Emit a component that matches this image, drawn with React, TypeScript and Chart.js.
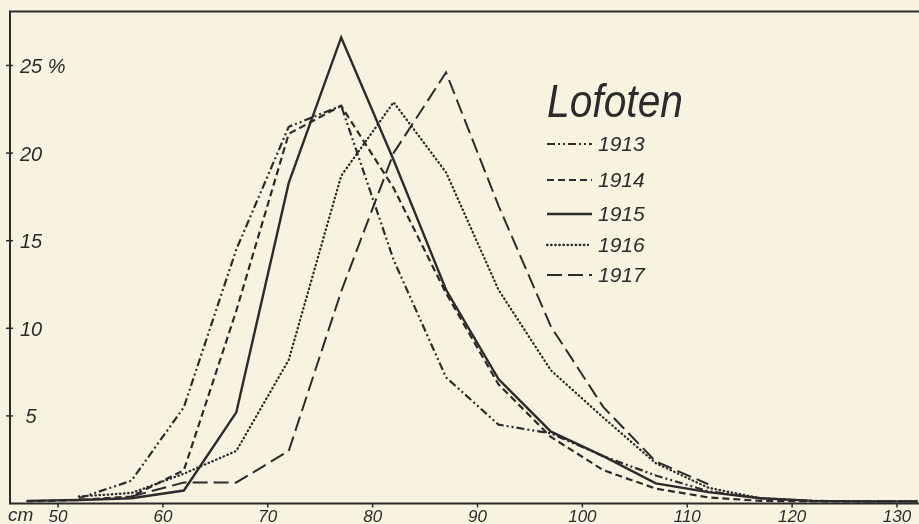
import React, { useEffect, useRef } from "react";
import { Chart, registerables } from "chart.js";

Chart.register(...registerables);

// ---- data (length in cm -> percentage of catch) ----
const lengthsCm = [47, 52, 57, 62, 67, 72, 77, 82, 87, 92, 97, 102, 107, 112, 117, 122, 127, 132];
const pct1913 = [null, 0.3, 1.3, 5.5, 14.5, 21.5, 22.7, 13.9, 7.2, 4.5, 4.0, 2.7, 1.6, 0.7, 0.3, 0.15, 0.12, 0.12];
const pct1914 = [0.12, 0.2, 0.4, 1.9, 11.0, 21.1, 22.7, 18.0, 12.0, 6.8, 3.8, 1.9, 0.85, 0.35, 0.15, 0.12, 0.12, 0.12];
const pct1915 = [0.15, 0.2, 0.3, 0.74, 5.2, 18.3, 26.6, 19.6, 12.2, 7.1, 4.1, 2.7, 1.15, 0.65, 0.3, 0.15, 0.12, 0.12];
const pct1916 = [null, 0.4, 0.6, 1.7, 3.0, 8.2, 18.7, 22.9, 18.9, 12.2, 7.6, 4.9, 2.3, 0.9, 0.3, null, null, null];
const pct1917 = [null, null, 0.4, 1.2, 1.2, 3.0, 12.1, 20.0, 24.6, 17.0, 10.1, 5.5, 2.4, 1.1, null, null, null, null];

const years = ["1913", "1914", "1915", "1916", "1917"];
const legendTitle = "Lofoten";

const xTickValues = [50, 60, 70, 80, 90, 100, 110, 120, 130];
const xTickLabels = ["50", "60", "70", "80", "90", "100", "110", "120", "130"];
const xUnit = "cm";
const yTickValues = [5, 10, 15, 20, 25];
const yTickLabels = ["5", "10", "15", "20", "25 %"];

const INK = "#2b2b2b";
const PAPER = "#f8f3e1";

const seriesStyles = [
  { dash: [8, 3, 2, 3, 2, 3], width: 2.2, cap: "butt" },
  { dash: [7, 4], width: 2.2, cap: "butt" },
  { dash: [], width: 2.4, cap: "butt" },
  { dash: [0.5, 3.6], width: 2.3, cap: "round" },
  { dash: [15, 6], width: 2, cap: "butt" },
];

const allSeries = [pct1913, pct1914, pct1915, pct1916, pct1917];

function toPoints(vals: (number | null)[]) {
  const pts: { x: number; y: number }[] = [];
  vals.forEach((v, i) => {
    if (v !== null) pts.push({ x: lengthsCm[i], y: v });
  });
  return pts;
}

const decorPlugin = {
  id: "decor",
  beforeDraw(chart: any) {
    const { ctx, width, height } = chart;
    ctx.save();
    ctx.fillStyle = PAPER;
    ctx.fillRect(0, 0, width, height);
    ctx.restore();
  },
  afterDraw(chart: any) {
    const { ctx, chartArea } = chart;
    const xs = chart.scales.x;
    const ys = chart.scales.y;
    ctx.save();
    ctx.strokeStyle = INK;
    ctx.fillStyle = INK;

    // frame: top, left, bottom
    ctx.lineWidth = 2;
    ctx.beginPath();
    ctx.moveTo(chartArea.right, chartArea.top);
    ctx.lineTo(chartArea.left, chartArea.top);
    ctx.lineTo(chartArea.left, chartArea.bottom);
    ctx.lineTo(chartArea.right, chartArea.bottom);
    ctx.stroke();

    // y ticks + labels (inside the plot)
    ctx.lineWidth = 1.5;
    ctx.font = "italic 20px 'Liberation Sans'";
    ctx.textBaseline = "middle";
    yTickValues.forEach((v, i) => {
      const py = ys.getPixelForValue(v);
      ctx.beginPath();
      ctx.moveTo(chartArea.left - 4, py);
      ctx.lineTo(chartArea.left + 3, py);
      ctx.stroke();
      const label = yTickLabels[i];
      const num = label.split(" ")[0];
      const wNum = ctx.measureText(num).width;
      ctx.textAlign = "left";
      ctx.fillText(label, 31 - wNum / 2, py + 2);
    });

    // x ticks + labels
    ctx.font = "italic 17px 'Liberation Sans'";
    ctx.textBaseline = "alphabetic";
    xTickValues.forEach((v, i) => {
      const px = xs.getPixelForValue(v);
      ctx.beginPath();
      ctx.moveTo(px, chartArea.bottom);
      ctx.lineTo(px, chartArea.bottom + 4);
      ctx.stroke();
      ctx.textAlign = "center";
      ctx.fillText(xTickLabels[i], px, chartArea.bottom + 18);
    });
    ctx.textAlign = "left";
    ctx.font = "italic 19px 'Liberation Sans'";
    ctx.fillText(xUnit, 8, chartArea.bottom + 17);

    // legend title
    ctx.save();
    ctx.font = "italic 46px 'Liberation Sans'";
    const tw = ctx.measureText(legendTitle).width;
    const sx = 136 / tw;
    ctx.translate(547, 117);
    ctx.scale(sx, 1);
    ctx.textAlign = "left";
    ctx.fillText(legendTitle, 0, 0);
    ctx.restore();

    // legend entries
    const lineYs = [144, 180, 214, 245, 275];
    ctx.font = "italic 21px 'Liberation Sans'";
    years.forEach((yr, i) => {
      const st = seriesStyles[i];
      const ly = lineYs[i];
      ctx.save();
      ctx.lineWidth = st.width;
      ctx.setLineDash(st.dash);
      ctx.lineCap = st.cap;
      ctx.beginPath();
      ctx.moveTo(547, ly);
      ctx.lineTo(i === 3 ? 588 : 592, ly);
      ctx.stroke();
      ctx.restore();
      ctx.textAlign = "left";
      ctx.textBaseline = "middle";
      ctx.fillText(yr, 598, ly + 1);
    });

    ctx.restore();
  },
};

export default function App() {
  const ref = useRef<HTMLCanvasElement | null>(null);

  useEffect(() => {
    document.body.style.margin = "0";
    document.body.style.background = PAPER;
    const canvas = ref.current;
    if (!canvas) return;
    const chart = new Chart(canvas, {
      type: "line",
      data: {
        datasets: allSeries.map((s, i) => ({
          label: years[i],
          data: toPoints(s),
          borderColor: INK,
          backgroundColor: INK,
          borderWidth: seriesStyles[i].width,
          borderDash: seriesStyles[i].dash,
          borderCapStyle: seriesStyles[i].cap as any,
          borderJoinStyle: "miter" as any,
          pointRadius: 0,
          pointHoverRadius: 0,
          tension: 0,
          fill: false,
        })),
      },
      options: {
        animation: false,
        responsive: false,
        devicePixelRatio: 1,
        layout: { padding: { left: 10, top: 11.5, right: 0, bottom: 20.5 } },
        scales: {
          x: { type: "linear", min: 45.42, max: 132.1, display: false },
          y: { type: "linear", min: 0, max: 28.08, display: false },
        },
        plugins: {
          legend: { display: false },
          tooltip: { enabled: false },
          title: { display: false },
        },
        events: [],
      },
      plugins: [decorPlugin],
    });
    return () => chart.destroy();
  }, []);

  return (
    <div style={{ width: 919, height: 524, background: PAPER }}>
      <canvas ref={ref} width={919} height={524} style={{ display: "block" }} />
    </div>
  );
}
